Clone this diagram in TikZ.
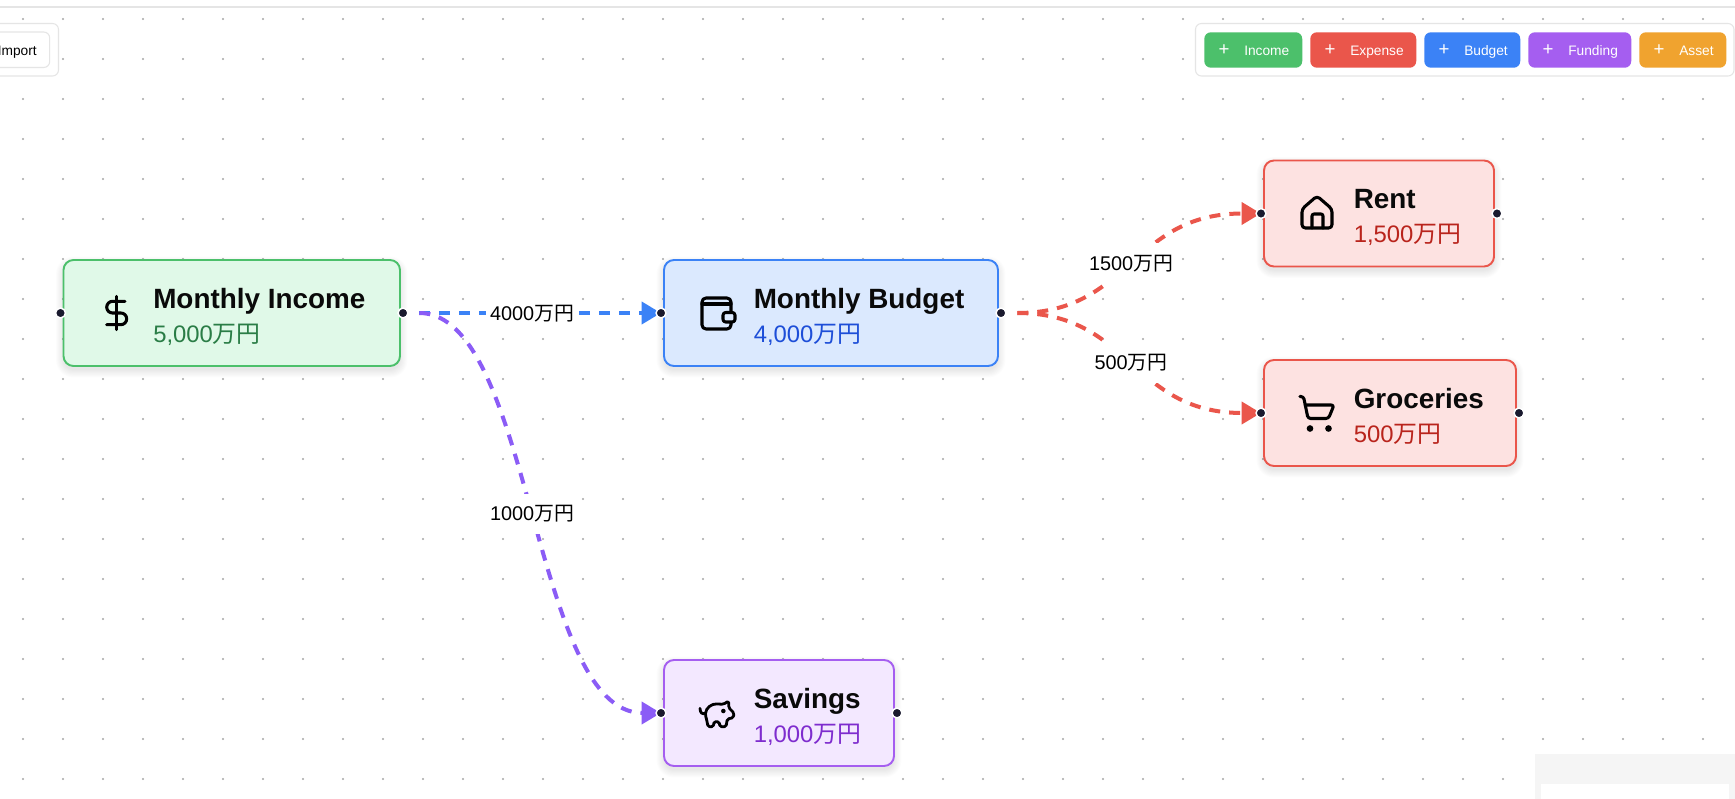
\documentclass[tikz,border=0pt]{standalone}
\usepackage{fontspec}
\setmainfont{Liberation Sans}
\newfontfamily\cjk{Noto Sans CJK JP}
\usetikzlibrary{arrows.meta}
\pgfdeclarelayer{canvas}
\pgfsetlayers{canvas,main}
\definecolor{DotGray}{RGB}{165,165,165}
\definecolor{PanelLine}{RGB}{229,229,229}
\definecolor{HandleDark}{RGB}{26,26,46}
\definecolor{IncomeLine}{RGB}{76,192,107}
\definecolor{IncomeFill}{RGB}{224,249,232}
\definecolor{IncomeText}{RGB}{42,125,70}
\definecolor{BudgetLine}{RGB}{59,130,246}
\definecolor{BudgetFill}{RGB}{219,233,254}
\definecolor{BudgetText}{RGB}{29,78,216}
\definecolor{ExpenseLine}{RGB}{234,86,75}
\definecolor{ExpenseFill}{RGB}{253,226,225}
\definecolor{ExpenseText}{RGB}{185,36,28}
\definecolor{SavingsLine}{RGB}{165,94,240}
\definecolor{SavingsFill}{RGB}{243,232,255}
\definecolor{SavingsText}{RGB}{126,44,206}
\definecolor{FlowPurple}{RGB}{139,92,246}
\definecolor{AssetFill}{RGB}{240,163,47}
\newcommand{\wan}{{\cjk 万円}}
\tikzset{
  card/.style={rounded corners=7.5pt,line width=1.45pt,minimum height=79.5pt,
    anchor=north west,inner sep=0pt,outer sep=0pt},
  incomecard/.style={card,draw=IncomeLine,fill=IncomeFill},
  budgetcard/.style={card,draw=BudgetLine,fill=BudgetFill},
  expensecard/.style={card,draw=ExpenseLine,fill=ExpenseFill},
  savingscard/.style={card,draw=SavingsLine,fill=SavingsFill},
  cardtitle/.style={anchor=base west,inner sep=0pt,text=black!96,
    font=\fontsize{20.9pt}{23pt}\selectfont\bfseries},
  cardvalue/.style={anchor=base west,inner sep=0pt,font=\fontsize{17.9pt}{20pt}\selectfont},
  handle/.style={circle,fill=HandleDark,draw=white,line width=1.1pt,minimum size=7.4pt,inner sep=0pt},
  flow/.style={-{Triangle[length=14.5pt,width=16.5pt]},line width=3pt,dash pattern=on 8.25pt off 6.75pt,
    shorten <=8pt,shorten >=-4.2pt},
  flowlabel/.style={fill=white,inner xsep=3pt,inner ysep=0pt,minimum height=30pt,text=black,
    font=\fontsize{14.9pt}{17pt}\selectfont},
  panel/.style={draw=PanelLine,fill=white,line width=0.8pt,rounded corners=4.5pt},
  addbutton/.style={rounded corners=5pt,minimum height=26.6pt,anchor=north west,inner sep=0pt},
  buttontext/.style={anchor=base west,inner sep=0pt,text=white,font=\fontsize{10.3pt}{12pt}\selectfont},
  icon/.style={draw=black,line width=2.3pt,line join=round,line cap=round}
}
% a card with its title, its value, its two handles and its shadow
\newcommand{\flowcard}[8]{%
  \node[#5,minimum width=#4*0.75pt] (#1) at (#2,#3) {};
  \node[cardtitle] (#1title) at (#2+89.5,#3+48) {#6};
  \node[cardvalue,text=#7] (#1value) at (#2+89.5,#3+82) {#8};
  \node[handle] (#1L) at ([xshift=-2.25pt]#1.west) {};
  \node[handle] (#1R) at ([xshift=2.25pt]#1.east) {};
  \begin{pgfonlayer}{canvas}
    \foreach \s in {0,0.8,...,6.4}
      \fill[black,opacity=0.011,rounded corners=7.5pt+\s pt]
        ([xshift=-\s pt,yshift=\s pt-3pt]#1.north west) rectangle ([xshift=\s pt,yshift=-\s pt-3pt]#1.south east);
  \end{pgfonlayer}
}
\begin{document}
\begin{tikzpicture}[x=0.75pt,y=-0.75pt]
  \useasboundingbox (0,0) rectangle (1735,799);
  \begin{pgfonlayer}{canvas}
    \fill[white] (0,0) rectangle (1735,799);
    % dotted canvas
    \foreach \i in {0,...,42} \foreach \j in {0,...,19}
      \fill[DotGray] (23+40*\i,19+40*\j) circle[radius=0.9pt];
  \end{pgfonlayer}
  \draw[PanelLine,line width=0.9pt] (0,7) -- (1735,7);

  % toolbar on the left
  \draw[panel] (-12,23.5) rectangle (58.5,76);
  \draw[panel] (-12,32) rectangle (49.7,67.5);
  \node[buttontext,anchor=base east,text=black] (import) at (37,55.5) {Import};

  % toolbar on the right
  \draw[panel] (1195.5,23.5) rectangle (1734,76);
  \foreach \nm/\xa/\xb/\col in {Income/1204/1302/IncomeLine,Expense/1310/1416/ExpenseLine,
      Budget/1424/1520/BudgetLine,Funding/1528/1631/SavingsLine,Asset/1639/1726/AssetFill}{
    \node[addbutton,fill=\col,minimum width={(\xb-\xa)*0.75pt}] (btn\nm) at (\xa,32) {};
    \node[text=white,inner sep=0pt,font=\fontsize{14pt}{14pt}\selectfont] (plus\nm) at (\xa+20,50) {+};
    \node[buttontext] (text\nm) at (\xa+40,55.5) {\nm};
  }

  % corner of the minimap
  \fill[black!4] (1535,754) rectangle (1735,799);
  \fill[white] (1541,784) rectangle (1729,799);

  % cards
  \flowcard{income}{63.5}{260}{336.5}{incomecard}{Monthly Income}{IncomeText}{5,000\wan}
  \flowcard{budget}{664}{260}{334}{budgetcard}{Monthly Budget}{BudgetText}{4,000\wan}
  \flowcard{rent}{1264}{160.5}{230}{expensecard}{Rent}{ExpenseText}{1,500\wan}
  \flowcard{groceries}{1264}{360}{252}{expensecard}{Groceries}{ExpenseText}{500\wan}
  \flowcard{savings}{664}{660}{230}{savingscard}{Savings}{SavingsText}{1,000\wan}

  % connectors
  \begin{pgfonlayer}{canvas}
    \draw[flow,BudgetLine] (incomeR) -- (budgetL)
      node[midway,flowlabel,yshift=-0.6pt] (lblBudget) {4000\wan};
    \draw[flow,FlowPurple] (incomeR) .. controls +(129,0) and +(-129,0) .. (savingsL)
      node[midway,flowlabel,yshift=-0.4pt] (lblSavings) {1000\wan};
    \draw[flow,ExpenseLine] (budgetR) .. controls +(130,0) and +(-130,0) .. (rentL)
      node[midway,flowlabel] (lblRent) {1500\wan};
    \draw[flow,ExpenseLine] (budgetR) .. controls +(130,0) and +(-130,0) .. (groceriesL)
      node[midway,flowlabel] (lblGroceries) {500\wan};
  \end{pgfonlayer}

  % dollar
  \begin{scope}[shift={(116.7,313)},x=1.25pt,y=-1.25pt]
    \draw[icon] (0,-10) -- (0,10);
    \draw[icon] (5,-7) -- (-2.5,-7) arc[start angle=270,end angle=90,radius=3.5]
      -- (2.5,0) arc[start angle=-90,end angle=90,radius=3.5] -- (-6,7);
  \end{scope}
  % wallet
  \draw[icon,rounded corners=3pt] (702,298) rectangle (731,329);
  \draw[icon] (702,304) -- (731,304);
  \draw[icon,fill=BudgetFill,rounded corners=2pt] (723,312.5) rectangle (735,322);
  % house
  \draw[icon,rounded corners=2.5pt] (1317,196) -- (1302,209) -- (1302,228) -- (1332,228) -- (1332,209) -- cycle;
  \draw[icon,rounded corners=1.5pt] (1312,228) -- (1312,214) -- (1323,214) -- (1323,228);
  % cart
  \draw[icon,rounded corners=2pt] (1300,396.5) -- (1303.5,396.5) -- (1308,418.5) -- (1328.5,418.5) -- (1334,405) -- (1305,405);
  \fill (1310,428.5) circle[radius=2.5pt];
  \fill (1328.5,428.5) circle[radius=2.5pt];
  % piggy bank
  \begin{scope}[shift={(690,685)},x=0.25pt,y=-0.25pt]
    \draw[icon,line width=2.1pt] (30,70) .. controls (30,84) and (38,90) .. (47,84);
    \draw[icon,line width=2.1pt,rounded corners=1.2pt] (46,90) .. controls (48,68) and (65,56) .. (85,57) -- (100,58) -- (116,48) -- (116,68)
      -- (132,84) -- (130,98) -- (112,102) -- (108,125) -- (90,125) -- (87,110) -- (72,110) -- (70,125) -- (54,125) -- (50,104) -- cycle;
    \fill (100,78) circle[radius=1.7pt];
  \end{scope}
\end{tikzpicture}
\end{document}
